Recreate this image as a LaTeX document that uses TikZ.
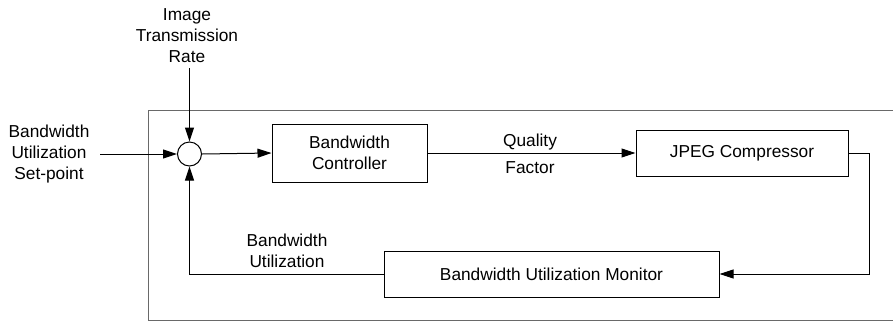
\documentclass[tikz,border=0pt]{standalone}
\usepackage{fontspec}
\setmainfont{Liberation Sans}
\usetikzlibrary{arrows.meta}
\definecolor{framegray}{RGB}{105,105,105}
\tikzset{
  lbl/.style={align=center, font=\fontsize{17.3}{21.3}\selectfont, inner sep=0pt},
  blk/.style={draw, line width=1pt, lbl},
  wire/.style={line width=1pt},
  arr/.style={wire, -{Triangle[length=14pt,width=9pt]}},
}
\begin{document}
\begin{tikzpicture}[x=1pt,y=-1pt]
\useasboundingbox (0,0) rectangle (893,322);
% enclosing system frame, open on the right
\draw[framegray, line width=1.2pt] (893,110.5) -- (148.5,110.5) -- (148.5,320.5) -- (893,320.5);
% summing junction
\node[draw, circle, line width=1pt, minimum size=24pt, inner sep=0pt] (sum) at (189.5,154) {};
% blocks
\node[blk, minimum width=155pt, minimum height=58pt] (ctrl) at (349.5,153) {Bandwidth\\Controller};
\node[blk, minimum width=212pt, minimum height=46pt] (jpeg) at (742,153) {JPEG Compressor};
\node[blk, minimum width=335pt, minimum height=46pt] (mon) at (551.5,274) {Bandwidth Utilization Monitor};
% external inputs
\node[lbl] (rate) at (187,35.5) {Image\\Transmission\\Rate};
\node[lbl] (setp) at (49,154) {Bandwidth\\Utilization\\Set-point};
\coordinate (rateend) at (189.5,68);
\coordinate (setend) at (100,154);
% signal labels
\node[lbl] (qf) at (530,153.5) {Quality\\[6pt]Factor};
\node[lbl] (bu) at (287,250.5) {Bandwidth\\Utilization};
% connectors
\draw[arr] (rateend) -- (sum.north);
\draw[arr] (setend) -- (sum.west);
\draw[arr] (sum.east) -- (ctrl.west);
\draw[arr] (ctrl.east) -- (jpeg.west);
\draw[arr] (jpeg.east) -| (869.5,274) -- (mon.east);
\draw[arr] (mon.west) -| (sum.south);
\end{tikzpicture}
\end{document}
